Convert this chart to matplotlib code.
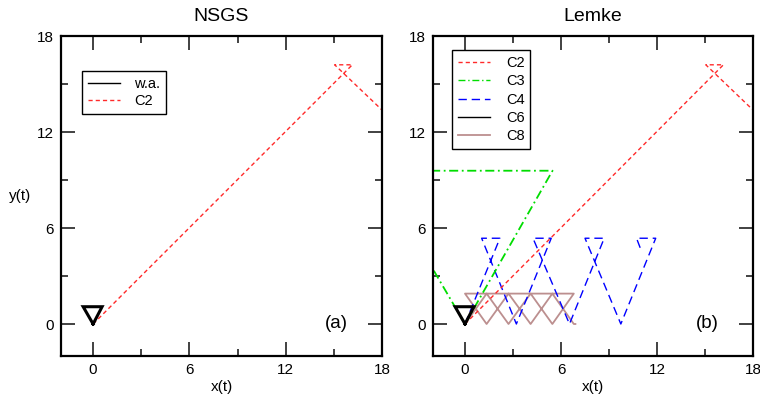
import matplotlib
matplotlib.use("Agg")
import matplotlib.pyplot as plt
from matplotlib.lines import Line2D
from matplotlib.ticker import MultipleLocator

plt.rcParams['font.family'] = ['Liberation Sans', 'DejaVu Sans']

# trajectories
wa_x = [0, 0.56, -0.62, 0]
wa_y = [0, 1.08, 1.08, 0]

c2_x = [0, 16.15, 15.05, 18.6]
c2_y = [0, 16.2, 16.2, 12.8]

c3_x = [0, 5.47, -5.6, 0]
c3_y = [0, 9.58, 9.58, 0]

c4_x = [0, 2.18, 1.04, 3.21, 5.39, 4.25, 6.53, 8.7, 7.5, 9.74, 11.92, 10.72, 11.05]
c4_y = [0, 5.36, 5.36, 0, 5.36, 5.36, 0, 5.36, 5.36, 0, 5.36, 5.36, 4.5]

c6_x = wa_x
c6_y = wa_y

c8_x = [0, 1.35, 0, 1.35, 2.72, 1.35, 2.72, 4.1, 2.72, 4.1, 5.46, 4.1, 5.46, 6.8, 5.46, 6.8, 6.9]
c8_y = [0, 1.9, 1.9, 0, 1.9, 1.9, 0, 1.9, 1.9, 0, 1.9, 1.9, 0, 1.9, 1.9, 0, 0]

ticks = [0, 6, 12, 18]
panel_titles = ['NSGS', 'Lemke']
panel_tags = ['(a)', '(b)']

RED = '#ff2a2a'
GREEN = '#00dd00'
BLUE = '#0000ff'
BROWN = '#bc8f8f'
dash_c2 = (0, (3, 2.2))
dash_c3 = (0, (5, 2, 1, 2))
dash_c4 = (0, (6, 3.5))

fig = plt.figure(figsize=(7.6, 3.99), dpi=100)
ax1 = fig.add_axes([61 / 760, 43 / 399, 321 / 760, 320 / 399])
ax2 = fig.add_axes([433 / 760, 43 / 399, 320 / 760, 320 / 399])

ax1.plot(c2_x, c2_y, color=RED, lw=1.0, ls=dash_c2)
ax1.plot(wa_x, wa_y, color='black', lw=2.2, solid_joinstyle='miter')

ax2.plot(c8_x, c8_y, color=BROWN, lw=1.3)
ax2.plot(c4_x, c4_y, color=BLUE, lw=1.0, ls=dash_c4)
ax2.plot(c3_x, c3_y, color=GREEN, lw=1.3, ls=dash_c3)
ax2.plot(c2_x, c2_y, color=RED, lw=1.0, ls=dash_c2)
ax2.plot(c6_x, c6_y, color='black', lw=2.2, solid_joinstyle='miter')

for ax, title, tag in zip([ax1, ax2], panel_titles, panel_tags):
    ax.set_xlim(-2, 18)
    ax.set_ylim(-2, 18)
    ax.set_xticks(ticks)
    ax.set_yticks(ticks)
    ax.xaxis.set_minor_locator(MultipleLocator(3))
    ax.yaxis.set_minor_locator(MultipleLocator(3))
    ax.tick_params(which='both', direction='in', top=True, right=True,
                   color='#333333', labelsize=11, pad=5)
    ax.tick_params(which='major', length=10, width=1.3)
    ax.tick_params(which='minor', length=5, width=1.3)
    for s in ax.spines.values():
        s.set_linewidth(1.6)
    ax.set_title(title, fontsize=14, pad=11)
    ax.set_xlabel('x(t)', fontsize=11, labelpad=2)
    ax.text(0.858, 0.103, tag, transform=ax.transAxes, fontsize=13.5,
            ha='center', va='center')

ax1.set_ylabel('y(t)', fontsize=11, rotation=0, ha='center', va='center')
ax1.yaxis.set_label_coords(-0.128, 0.5)

h1 = [Line2D([], [], color='black', lw=1.0),
      Line2D([], [], color=RED, lw=1.0, ls=dash_c2)]
ax1.legend(h1, ['w.a.', 'C2'], loc='upper left', bbox_to_anchor=(0.065, 0.89),
           fancybox=False, edgecolor='black', framealpha=1, fontsize=10.5,
           handlelength=2.2, handletextpad=1.0, labelspacing=0.2,
           borderpad=0.4, borderaxespad=0).get_frame().set_linewidth(1.0)

h2 = [Line2D([], [], color=RED, lw=1.0, ls=dash_c2),
      Line2D([], [], color=GREEN, lw=1.0, ls=dash_c3),
      Line2D([], [], color=BLUE, lw=1.0, ls=dash_c4),
      Line2D([], [], color='black', lw=1.0),
      Line2D([], [], color=BROWN, lw=1.3)]
ax2.legend(h2, ['C2', 'C3', 'C4', 'C6', 'C8'], loc='upper left',
           bbox_to_anchor=(0.059, 0.956), fancybox=False, edgecolor='black',
           framealpha=1, fontsize=10.5, handlelength=2.2, handletextpad=1.1,
           labelspacing=0.3, borderpad=0.4,
           borderaxespad=0).get_frame().set_linewidth(1.0)

fig.savefig('out.png', dpi=100)
